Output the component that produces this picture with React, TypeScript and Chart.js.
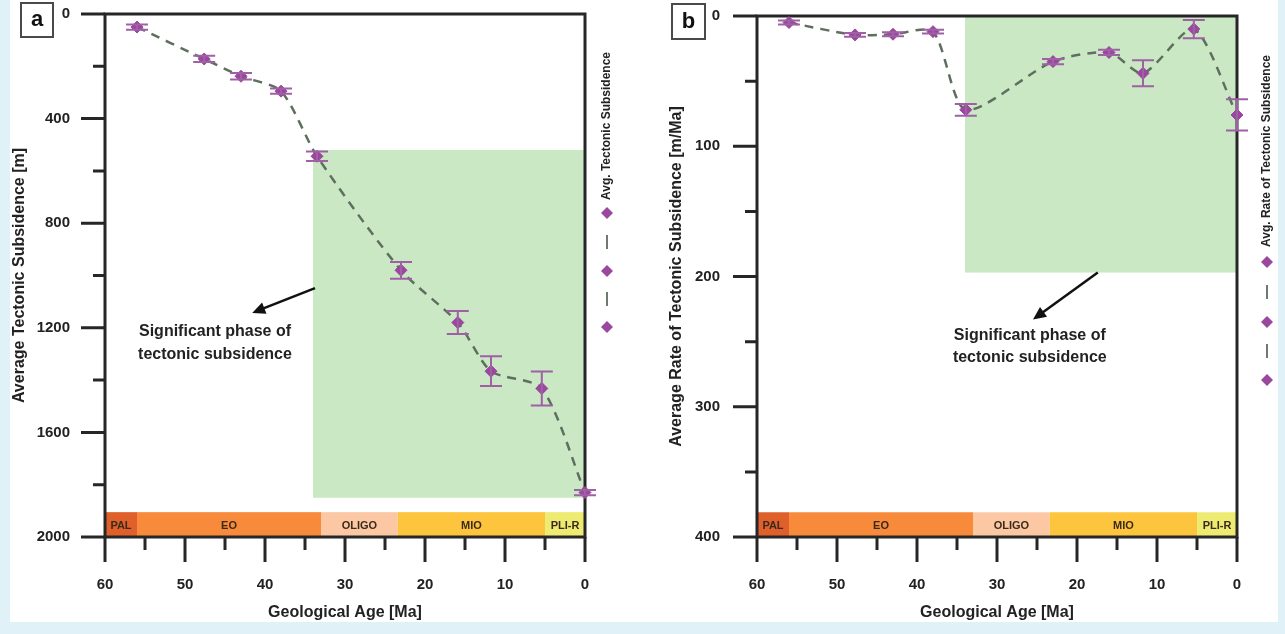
import React, { useEffect, useRef } from 'react';
import { Chart, registerables } from 'chart.js';
Chart.register(...registerables);

// ---------- data ----------
const agesA = [56, 47.6, 43, 38, 33.5, 23, 15.9, 11.75, 5.4, 0];
const subsidenceA = [50, 172, 238, 295, 544, 980, 1180, 1366, 1432, 1830];
const errA = [10, 12, 12, 10, 18, 32, 44, 57, 65, 10];

const agesB = [56, 47.75, 43, 38, 33.9, 23, 16, 11.75, 5.4, 0];
const rateB = [5, 14.5, 14, 12, 72, 35, 28, 44, 10, 76];
const errB = [1.5, 1.5, 1.5, 1.5, 4.5, 2, 2, 10, 7, 12];

const xTicks = [60, 50, 40, 30, 20, 10, 0];
const yTicksA = [0, 400, 800, 1200, 1600, 2000];
const yTicksB = [0, 100, 200, 300, 400];

const epochNames = ['PAL', 'EO', 'OLIGO', 'MIO', 'PLI-R'];
const epochStart = [60, 56, 33, 23.4, 5];
const epochEnd = [56, 33, 23.4, 5, 0];
const epochColors = ['#e0602c', '#f78a3b', '#fbc8a3', '#fcc53d', '#efeb72'];

const noteLines = ['Significant phase of', 'tectonic subsidence'];

const FONT = "'Liberation Sans', Arial, sans-serif";
const INK = '#222222';
const PURPLE = '#9a479e';

const panelA = {
  ages: agesA, values: subsidenceA, errs: errA,
  yMax: 2000, yTicks: yTicksA,
  yTitle: 'Average Tectonic Subsidence [m]',
  left: 105, right: 585, top: 14, bottom: 537,
  yLabelPad: 35, yTitlePad: 10,
  box: { ageFrom: 34, ageTo: 0, valFrom: 520, valTo: 1850 },
  barTop: 1905,
  arrow: { from: [33.75, 1048], to: [41.6, 1143] },
  note: { age: 46.25, vals: [1216, 1304] },
  legendText: 'Avg. Tectonic Subsidence',
  legendX: 607, legendTextBottom: 200, legendMarks: [213, 271, 327],
  label: 'a', labelBox: [21, 3, 32, 34],
};

const panelB = {
  ages: agesB, values: rateB, errs: errB,
  yMax: 400, yTicks: yTicksB,
  yTitle: 'Average Rate of Tectonic Subsidence [m/Ma]',
  left: 117, right: 597, top: 16, bottom: 537,
  yLabelPad: 37, yTitlePad: 27,
  box: { ageFrom: 34, ageTo: 0, valFrom: 0, valTo: 197 },
  barTop: 381,
  arrow: { from: [17.4, 197], to: [25.5, 233] },
  note: { age: 25.9, vals: [245, 262] },
  legendText: 'Avg. Rate of Tectonic Subsidence',
  legendX: 627, legendTextBottom: 247, legendMarks: [262, 322, 380],
  label: 'b', labelBox: [32, 4, 33, 35],
};

function drawDiamond(ctx: CanvasRenderingContext2D, x: number, y: number, r: number) {
  ctx.beginPath();
  ctx.moveTo(x, y - r);
  ctx.lineTo(x + r, y);
  ctx.lineTo(x, y + r);
  ctx.lineTo(x - r, y);
  ctx.closePath();
  ctx.fill();
}

function makePlugin(p: any) {
  return {
    id: 'panelDecor',
    beforeDatasetsDraw(chart: any) {
      const { ctx, chartArea: ca, scales } = chart;
      const x = scales.x, y = scales.y;
      ctx.save();
      // highlighted phase box
      const gx1 = x.getPixelForValue(p.box.ageFrom), gx2 = x.getPixelForValue(p.box.ageTo);
      const gy1 = y.getPixelForValue(p.box.valFrom), gy2 = y.getPixelForValue(p.box.valTo);
      ctx.fillStyle = '#cbe8c5';
      ctx.fillRect(gx1, gy1, gx2 - gx1, gy2 - gy1);
      // timescale bar
      const by1 = y.getPixelForValue(p.barTop);
      const by2 = ca.bottom;
      ctx.font = `bold 11px ${FONT}`;
      ctx.textAlign = 'center';
      ctx.textBaseline = 'middle';
      epochNames.forEach((n, i) => {
        const xa = x.getPixelForValue(epochStart[i]);
        const xb = x.getPixelForValue(epochEnd[i]);
        ctx.fillStyle = epochColors[i];
        ctx.fillRect(xa, by1, xb - xa, by2 - by1);
      });
      epochNames.forEach((n, i) => {
        const xm = x.getPixelForValue((epochStart[i] + epochEnd[i]) / 2);
        ctx.fillStyle = '#3a2a1a';
        ctx.fillText(n, xm, (by1 + by2) / 2 + 1);
      });
      // frame
      ctx.strokeStyle = '#262626';
      ctx.lineWidth = 3;
      ctx.strokeRect(ca.left, ca.top, ca.right - ca.left, ca.bottom - ca.top);
      // y ticks
      ctx.lineWidth = 3;
      ctx.beginPath();
      const yt = p.yTicks;
      yt.forEach((v: number, i: number) => {
        const py = y.getPixelForValue(v);
        ctx.moveTo(ca.left - 24, py);
        ctx.lineTo(ca.left, py);
        if (i < yt.length - 1) {
          const pm = y.getPixelForValue((v + yt[i + 1]) / 2);
          ctx.moveTo(ca.left - 12, pm);
          ctx.lineTo(ca.left, pm);
        }
      });
      // x ticks
      xTicks.forEach((v: number, i: number) => {
        const px = x.getPixelForValue(v);
        ctx.moveTo(px, ca.bottom);
        ctx.lineTo(px, ca.bottom + 25);
        if (i < xTicks.length - 1) {
          const pm = x.getPixelForValue((v + xTicks[i + 1]) / 2);
          ctx.moveTo(pm, ca.bottom);
          ctx.lineTo(pm, ca.bottom + 13);
        }
      });
      ctx.stroke();
      ctx.restore();
    },
    afterDatasetsDraw(chart: any) {
      const { ctx, scales } = chart;
      const x = scales.x, y = scales.y;
      ctx.save();
      // error bars
      ctx.strokeStyle = '#a060a6';
      ctx.lineWidth = 2;
      p.ages.forEach((a: number, i: number) => {
        const px = x.getPixelForValue(a);
        const lo = y.getPixelForValue(p.values[i] - p.errs[i]);
        const hi = y.getPixelForValue(p.values[i] + p.errs[i]);
        ctx.beginPath();
        ctx.moveTo(px, lo); ctx.lineTo(px, hi);
        ctx.moveTo(px - 11, lo); ctx.lineTo(px + 11, lo);
        ctx.moveTo(px - 11, hi); ctx.lineTo(px + 11, hi);
        ctx.stroke();
      });
      // arrow
      const ax1 = x.getPixelForValue(p.arrow.from[0]), ay1 = y.getPixelForValue(p.arrow.from[1]);
      const ax2 = x.getPixelForValue(p.arrow.to[0]), ay2 = y.getPixelForValue(p.arrow.to[1]);
      const ang = Math.atan2(ay2 - ay1, ax2 - ax1);
      ctx.strokeStyle = '#111';
      ctx.fillStyle = '#111';
      ctx.lineWidth = 2.5;
      ctx.beginPath();
      ctx.moveTo(ax1, ay1);
      ctx.lineTo(ax2 - 8 * Math.cos(ang), ay2 - 8 * Math.sin(ang));
      ctx.stroke();
      ctx.beginPath();
      ctx.moveTo(ax2, ay2);
      ctx.lineTo(ax2 - 13 * Math.cos(ang) + 6 * Math.sin(ang), ay2 - 13 * Math.sin(ang) - 6 * Math.cos(ang));
      ctx.lineTo(ax2 - 13 * Math.cos(ang) - 6 * Math.sin(ang), ay2 - 13 * Math.sin(ang) + 6 * Math.cos(ang));
      ctx.closePath();
      ctx.fill();
      // note text
      ctx.fillStyle = INK;
      ctx.font = `bold 16px ${FONT}`;
      ctx.textAlign = 'center';
      ctx.textBaseline = 'middle';
      noteLines.forEach((t, i) => {
        ctx.fillText(t, x.getPixelForValue(p.note.age), y.getPixelForValue(p.note.vals[i]));
      });
      ctx.restore();
    },
    afterDraw(chart: any) {
      const { ctx } = chart;
      ctx.save();
      // legend
      ctx.fillStyle = INK;
      ctx.font = `bold 12px ${FONT}`;
      ctx.textAlign = 'left';
      ctx.textBaseline = 'middle';
      ctx.translate(p.legendX, p.legendTextBottom);
      ctx.rotate(-Math.PI / 2);
      ctx.fillText(p.legendText, 0, 0);
      ctx.setTransform(1, 0, 0, 1, 0, 0);
      const m = p.legendMarks;
      ctx.strokeStyle = '#6d7a6d';
      ctx.lineWidth = 2;
      ctx.beginPath();
      for (let i = 0; i < m.length - 1; i++) {
        const mid = (m[i] + m[i + 1]) / 2;
        ctx.moveTo(p.legendX, mid - 7);
        ctx.lineTo(p.legendX, mid + 7);
      }
      ctx.stroke();
      ctx.fillStyle = PURPLE;
      m.forEach((my: number) => drawDiamond(ctx, p.legendX, my, 6));
      // panel label
      const [bx, by, bw, bh] = p.labelBox;
      ctx.fillStyle = '#fff';
      ctx.fillRect(bx, by, bw, bh);
      ctx.strokeStyle = '#4a4a4a';
      ctx.lineWidth = 2;
      ctx.strokeRect(bx, by, bw, bh);
      ctx.fillStyle = '#111';
      ctx.font = `bold 22px ${FONT}`;
      ctx.textAlign = 'center';
      ctx.textBaseline = 'middle';
      ctx.fillText(p.label, bx + bw / 2, by + bh / 2);
      ctx.restore();
    },
  };
}

function Panel({ cfg, left, width }: { cfg: any; left: number; width: number }) {
  const ref = useRef<HTMLCanvasElement>(null);
  useEffect(() => {
    const H = 634;
    const chart = new Chart(ref.current as HTMLCanvasElement, {
      type: 'line',
      data: {
        datasets: [
          {
            data: cfg.ages.map((a: number, i: number) => ({ x: a, y: cfg.values[i] })),
            borderColor: '#5e6f5e',
            borderWidth: 2.5,
            borderDash: [9, 7],
            tension: 0.25,
            pointStyle: 'rectRot',
            pointRadius: 6,
            pointBackgroundColor: PURPLE,
            pointBorderColor: PURPLE,
            pointBorderWidth: 1,
            clip: false,
            fill: false,
          } as any,
        ],
      },
      options: {
        responsive: false,
        animation: false,
        layout: { autoPadding: false, padding: { top: cfg.top, right: width - cfg.right, left: 0, bottom: 0 } },
        plugins: { legend: { display: false }, tooltip: { enabled: false } },
        scales: {
          x: {
            type: 'linear',
            min: 0,
            max: 60,
            reverse: true,
            grid: { display: false, drawTicks: false },
            border: { display: false },
            afterBuildTicks: (s: any) => { s.ticks = xTicks.map((v) => ({ value: v })); },
            ticks: { padding: 39, autoSkip: false, maxRotation: 0, color: INK, font: { family: FONT, size: 15, weight: 'bold' }, callback: (v: any) => String(v) },
            title: { display: true, text: 'Geological Age [Ma]', color: INK, font: { family: FONT, size: 16, weight: 'bold' }, padding: { top: 0, bottom: 12 } },
            afterFit: (s: any) => { s.height = H - cfg.bottom; s.paddingLeft = 0; s.paddingRight = 0; },
          },
          y: {
            type: 'linear',
            min: 0,
            max: cfg.yMax,
            reverse: true,
            grid: { display: false, drawTicks: false },
            border: { display: false },
            afterBuildTicks: (s: any) => { s.ticks = cfg.yTicks.map((v: number) => ({ value: v })); },
            ticks: { padding: cfg.yLabelPad, autoSkip: false, color: INK, font: { family: FONT, size: 15, weight: 'bold' }, callback: (v: any) => String(v) },
            title: { display: true, text: cfg.yTitle, color: INK, font: { family: FONT, size: 16, weight: 'bold' }, padding: { top: cfg.yTitlePad, bottom: 0 } },
            afterFit: (s: any) => { s.width = cfg.left; s.paddingTop = 0; s.paddingBottom = 0; },
          },
        },
      } as any,
      plugins: [makePlugin(cfg)],
    });
    return () => chart.destroy();
  }, []);
  return (
    <canvas
      ref={ref}
      width={width}
      height={634}
      style={{ position: 'absolute', left, top: 0, width, height: 634 }}
    />
  );
}

export default function App() {
  return (
    <div style={{ position: 'fixed', left: 0, top: 0, width: 1285, height: 634, background: '#e1f1f8', overflow: 'hidden' }}>
      <div style={{ position: 'absolute', left: 10, top: 0, width: 1268, height: 622, background: '#ffffff' }} />
      <Panel cfg={panelA} left={0} width={640} />
      <Panel cfg={panelB} left={640} width={645} />
    </div>
  );
}
